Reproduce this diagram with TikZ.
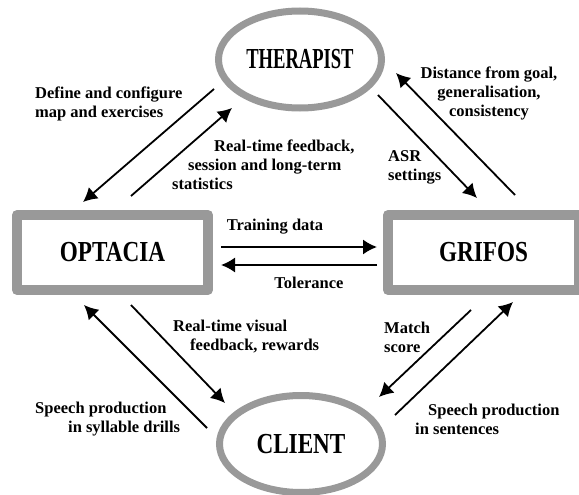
\documentclass[tikz,border=0pt]{standalone}
\usepackage{graphicx}
\usepackage{fontspec}
\setmainfont{Liberation Serif}
\usetikzlibrary{arrows.meta,shapes.geometric}
\definecolor{ringgray}{gray}{0.6}
\tikzset{
	actor/.style={ellipse,draw=ringgray,line width=7pt,inner sep=0pt,minimum width=163pt,minimum height=97pt,font=\fontsize{29}{30}\selectfont\bfseries},
	module/.style={rectangle,draw=ringgray,line width=10pt,line join=round,minimum width=191pt,minimum height=75pt,font=\fontsize{29}{30}\selectfont\bfseries},
	flow/.style={->,>={Latex[length=14pt,width=15pt]},line width=1.8pt},
	lbl/.style={font=\fontsize{16.5}{19}\selectfont\bfseries,inner sep=0pt,align=left},
}

\begin{document}
\begin{tikzpicture}[x=1pt,y=-1pt]
	\useasboundingbox (0,0) rectangle (579,495);
	\node[actor] (0) at (300,59.5) {\scalebox{0.64}[1]{THERAPIST}};
	\node[module] (1) at (112.5,252.5) {\scalebox{0.8}[1]{OPTACIA}};
	\node[module] (2) at (483.5,252.5) {\scalebox{0.8}[1]{GRIFOS}};
	\node[actor] (3) at (301,444) {\scalebox{0.8}[1]{CLIENT}};
	% arrow ends
	\coordinate (a0) at (214,89);  \coordinate (a1) at (83,202);
	\coordinate (b1) at (131,196); \coordinate (b0) at (232,108);
	\coordinate (c0) at (378,95);  \coordinate (c2) at (477,198);
	\coordinate (d2) at (515,195); \coordinate (d0) at (396,73);
	\coordinate (e1) at (221,247); \coordinate (e2) at (377,247);
	\coordinate (f2) at (377,265); \coordinate (f1) at (221,265);
	\coordinate (g3) at (207,428); \coordinate (g1) at (84,305);
	\coordinate (h1) at (131,305); \coordinate (h3) at (225,403);
	\coordinate (i2) at (471,310); \coordinate (i3) at (379,397);
	\coordinate (j3) at (395,415); \coordinate (j2) at (513,302);
	\draw [flow](a0)--(a1);
	\draw [flow](b1)--(b0);
	\draw [flow](c0)--(c2);
	\draw [flow](d2)--(d0);
	\draw [flow](e1)--(e2);
	\draw [flow](f2)--(f1);
	\draw [flow](g3)--(g1);
	\draw [flow](h1)--(h3);
	\draw [flow](i2)--(i3);
	\draw [flow](j3)--(j2);
	% labels
	\node[lbl,anchor=west] (la) at (35,103.5) {Define and configure\\map and exercises};
	\node[lbl,anchor=west] (lb) at (172,165) {\hspace*{42pt}Real-time feedback,\\\hspace*{16pt}session and long-term\\statistics};
	\node[lbl,anchor=west] (lc) at (388,167.5) {ASR\\settings};
	\node[lbl,align=center] (ld) at (489,93) {Distance from goal,\\generalisation,\\consistency};
	\node[lbl] (le) at (275,227) {Training data};
	\node[lbl] (lf) at (309,283) {Tolerance};
	\node[lbl,anchor=west] (lg) at (35,419) {Speech production\\\hspace*{33pt}in syllable drills};
	\node[lbl,anchor=west] (lh) at (173,337) {Real-time visual\\\hspace*{17pt}feedback, rewards};
	\node[lbl,anchor=west] (li) at (384,337) {Match\\score};
	\node[lbl,anchor=west] (lj) at (415,419) {\hspace*{13pt}Speech production\\in sentences};
\end{tikzpicture}
\end{document}
